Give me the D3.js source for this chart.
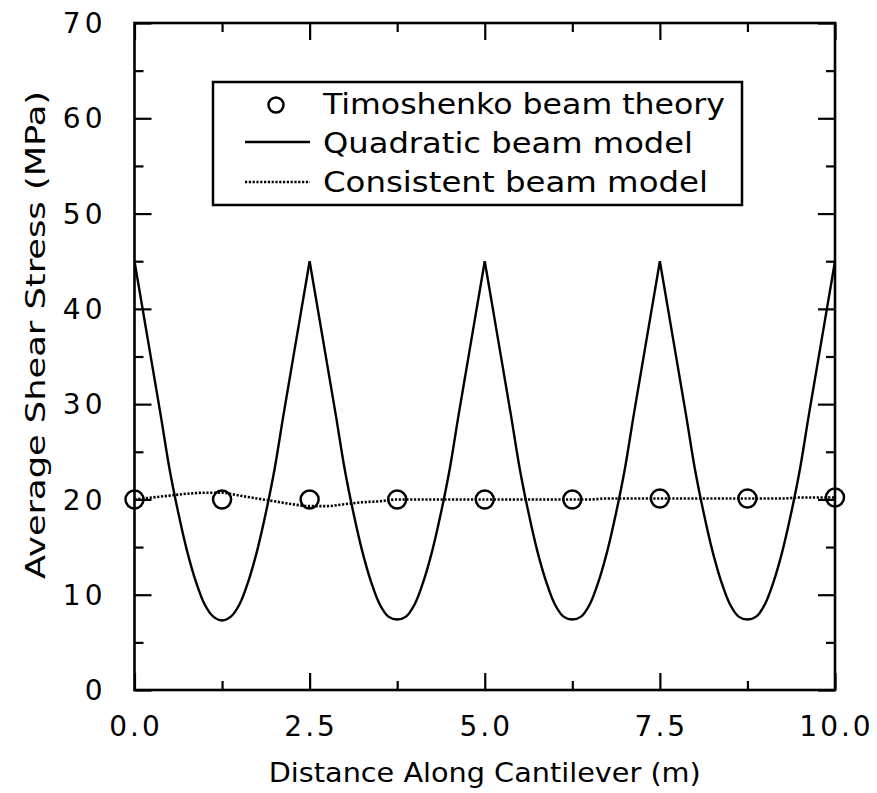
<!DOCTYPE html>
<html>
<head>
<meta charset="utf-8">
<script src="https://cdn.jsdelivr.net/npm/d3@7"></script>
<style>
  body { margin: 0; background: #fff; }
  text { font-family: "DejaVu Sans", sans-serif; fill: #000; }
</style>
</head>
<body>
<div id="chart"></div>
<script>
// chart values
var quadX = [0, 0.125, 0.25, 0.375, 0.5, 0.625, 0.75, 0.875, 1, 1.125, 1.25, 1.375, 1.5, 1.625, 1.75, 1.875, 2, 2.125, 2.25, 2.375, 2.5,
  2.625, 2.75, 2.875, 3, 3.125, 3.25, 3.375, 3.5, 3.625, 3.75, 3.875, 4, 4.125, 4.25, 4.375, 4.5, 4.625, 4.75, 4.875, 5,
  5.125, 5.25, 5.375, 5.5, 5.625, 5.75, 5.875, 6, 6.125, 6.25, 6.375, 6.5, 6.625, 6.75, 6.875, 7, 7.125, 7.25, 7.375, 7.5,
  7.625, 7.75, 7.875, 8, 8.125, 8.25, 8.375, 8.5, 8.625, 8.75, 8.875, 9, 9.125, 9.25, 9.375, 9.5, 9.625, 9.75, 9.875, 10];
var quadratic = [45.0, 39.6, 34.2, 28.8, 23.2, 18.6, 14.6, 11.4, 9.0, 7.7, 7.3, 7.7, 9.0, 11.4, 14.6, 18.6, 23.2, 28.8, 34.2, 39.6, 45.0,
  39.6, 34.2, 28.8, 23.2, 18.6, 14.6, 11.4, 9.0, 7.7, 7.4, 7.7, 9.0, 11.4, 14.6, 18.6, 23.2, 28.8, 34.2, 39.6, 45.0,
  39.6, 34.2, 28.8, 23.2, 18.6, 14.6, 11.4, 9.0, 7.7, 7.4, 7.7, 9.0, 11.4, 14.6, 18.6, 23.2, 28.8, 34.2, 39.6, 45.0,
  39.6, 34.2, 28.8, 23.2, 18.6, 14.6, 11.4, 9.0, 7.7, 7.4, 7.7, 9.0, 11.4, 14.6, 18.6, 23.2, 28.8, 34.2, 39.6, 45.0];
var consX = [0, 0.25, 0.5, 0.75, 1, 1.25, 1.5, 1.75, 2, 2.25, 2.5,
  2.75, 3, 3.25, 3.5, 3.75, 4, 4.25, 4.5, 4.75, 5,
  5.25, 5.5, 5.75, 6, 6.25, 6.5, 6.75, 7, 7.25, 7.5,
  7.75, 8, 8.25, 8.5, 8.75, 9, 9.25, 9.5, 9.75, 10];
var consistent = [20.0, 20.2, 20.4, 20.6, 20.7, 20.7, 20.4, 20.1, 19.8, 19.5, 19.3,
  19.3, 19.5, 19.7, 19.8, 20.0, 20.0, 20.0, 20.0, 20.0, 20.0,
  20.0, 20.0, 20.0, 20.0, 20.0, 20.0, 20.1, 20.1, 20.1, 20.1,
  20.1, 20.1, 20.1, 20.1, 20.1, 20.1, 20.1, 20.2, 20.2, 20.2];
var timoX = [0, 1.25, 2.5, 3.75, 5, 6.25, 7.5, 8.75, 10];
var timoY = [20.0, 20.0, 20.0, 20.0, 20.0, 20.0, 20.1, 20.1, 20.2];
var elementEnds = [0, 2.5, 5, 7.5, 10];
var xTickLabels = ["0.0", "2.5", "5.0", "7.5", "10.0"];
var yTickLabels = ["0", "10", "20", "30", "40", "50", "60", "70"];
var legendLabels = ["Timoshenko beam theory", "Quadratic beam model", "Consistent beam model"];

var W = 877, H = 793;
var margin = { left: 134.5, top: 23, right: 42, bottom: 103 };
var width = W - margin.left - margin.right;
var height = H - margin.top - margin.bottom;

var x = d3.scaleLinear().domain([0, 10]).range([0, width]);
var y = d3.scaleLinear().domain([0, 70]).range([height, 0]);

var svg = d3.select("#chart").append("svg")
  .attr("width", W).attr("height", H)
  .style("background", "#fff");

var g = svg.append("g")
  .attr("transform", "translate(" + margin.left + "," + margin.top + ")");

// ticks on all four sides, pointing inward
var xMajor = xTickLabels.map(Number);
var xMinor = [1.25, 3.75, 6.25, 8.75];
var yMajor = yTickLabels.map(Number);
var yMinor = [5, 15, 25, 35, 45, 55, 65];

function axisGroup(axis) {
  var a = g.append("g").call(axis);
  a.select(".domain").remove();
  a.selectAll("text").remove();
  a.selectAll("line").attr("stroke", "#000").attr("stroke-width", 2.2);
  return a;
}

axisGroup(d3.axisBottom(x).tickValues(xMajor).tickSize(-17)).attr("transform", "translate(0," + height + ")");
axisGroup(d3.axisBottom(x).tickValues(xMinor).tickSize(-9)).attr("transform", "translate(0," + height + ")");
axisGroup(d3.axisTop(x).tickValues(xMajor).tickSize(-17));
axisGroup(d3.axisTop(x).tickValues(xMinor).tickSize(-9));
axisGroup(d3.axisLeft(y).tickValues(yMajor).tickSize(-17));
axisGroup(d3.axisLeft(y).tickValues(yMinor).tickSize(-9));
axisGroup(d3.axisRight(y).tickValues(yMajor).tickSize(-17)).attr("transform", "translate(" + width + ",0)");
axisGroup(d3.axisRight(y).tickValues(yMinor).tickSize(-9)).attr("transform", "translate(" + width + ",0)");

// frame
g.append("rect")
  .attr("width", width).attr("height", height)
  .attr("fill", "none").attr("stroke", "#000").attr("stroke-width", 2.6);

// tick labels
g.selectAll(".xlab").data(xTickLabels).enter().append("text")
  .attr("class", "xlab")
  .attr("x", function (d) { return x(+d) + 1.5; })
  .attr("y", height + 46)
  .attr("text-anchor", "middle")
  .style("font-size", "28px")
  .style("letter-spacing", "3px")
  .text(function (d) { return d; });

g.selectAll(".ylab").data(yTickLabels).enter().append("text")
  .attr("class", "ylab")
  .attr("x", -28)
  .attr("y", function (d) { return y(+d); })
  .attr("dy", "0.36em")
  .attr("text-anchor", "end")
  .style("font-size", "28px")
  .style("letter-spacing", "4px")
  .text(function (d) { return d; });

// axis titles
g.append("text")
  .attr("x", width / 2)
  .attr("y", height + 92)
  .attr("text-anchor", "middle")
  .attr("textLength", 432).attr("lengthAdjust", "spacingAndGlyphs")
  .style("font-size", "27px")
  .text("Distance Along Cantilever (m)");

g.append("text")
  .attr("transform", "translate(-90," + (335 - margin.top) + ") rotate(-90)")
  .attr("text-anchor", "middle")
  .attr("textLength", 488).attr("lengthAdjust", "spacingAndGlyphs")
  .style("font-size", "27px")
  .text("Average Shear Stress (MPa)");

// quadratic beam model, one curve per element so the peaks stay sharp
var quadPts = quadX.map(function (d, i) { return [d, quadratic[i]]; });
var line = d3.line()
  .x(function (d) { return x(d[0]); })
  .y(function (d) { return y(d[1]); })
  .curve(d3.curveCatmullRom);

for (var k = 0; k < elementEnds.length - 1; k++) {
  var seg = quadPts.filter(function (p) { return p[0] >= elementEnds[k] && p[0] <= elementEnds[k + 1]; });
  g.append("path").datum(seg)
    .attr("d", line)
    .attr("fill", "none").attr("stroke", "#000").attr("stroke-width", 2.4);
}

// consistent beam model (dotted)
var consPts = consX.map(function (d, i) { return [d, consistent[i]]; });
g.append("path").datum(consPts)
  .attr("d", line.curve(d3.curveMonotoneX))
  .attr("fill", "none").attr("stroke", "#000").attr("stroke-width", 2.6)
  .attr("stroke-dasharray", "2.2,1.6");

// Timoshenko beam theory circles
g.selectAll(".timo").data(timoX).enter().append("circle")
  .attr("class", "timo")
  .attr("cx", function (d) { return x(d); })
  .attr("cy", function (d, i) { return y(timoY[i]); })
  .attr("r", 9)
  .attr("fill", "none").attr("stroke", "#000").attr("stroke-width", 2.5);

// legend
var lg = svg.append("g");
lg.append("rect")
  .attr("x", 213).attr("y", 82).attr("width", 529).attr("height", 123)
  .attr("fill", "#fff").attr("stroke", "#000").attr("stroke-width", 2.5);
lg.append("circle")
  .attr("cx", 276).attr("cy", 105).attr("r", 7.5)
  .attr("fill", "none").attr("stroke", "#000").attr("stroke-width", 2.5);
lg.append("line")
  .attr("x1", 245).attr("x2", 310).attr("y1", 142).attr("y2", 142)
  .attr("stroke", "#000").attr("stroke-width", 2.4);
lg.append("line")
  .attr("x1", 245).attr("x2", 310).attr("y1", 182).attr("y2", 182)
  .attr("stroke", "#000").attr("stroke-width", 2.6)
  .attr("stroke-dasharray", "2.2,1.6");
var legendWidths = [402, 370, 385];
lg.selectAll(".leg").data(legendLabels).enter().append("text")
  .attr("class", "leg")
  .attr("x", 323)
  .attr("y", function (d, i) { return 114 + i * 39; })
  .attr("textLength", function (d, i) { return legendWidths[i]; })
  .attr("lengthAdjust", "spacingAndGlyphs")
  .style("font-size", "28px")
  .text(function (d) { return d; });
</script>
</body>
</html>
